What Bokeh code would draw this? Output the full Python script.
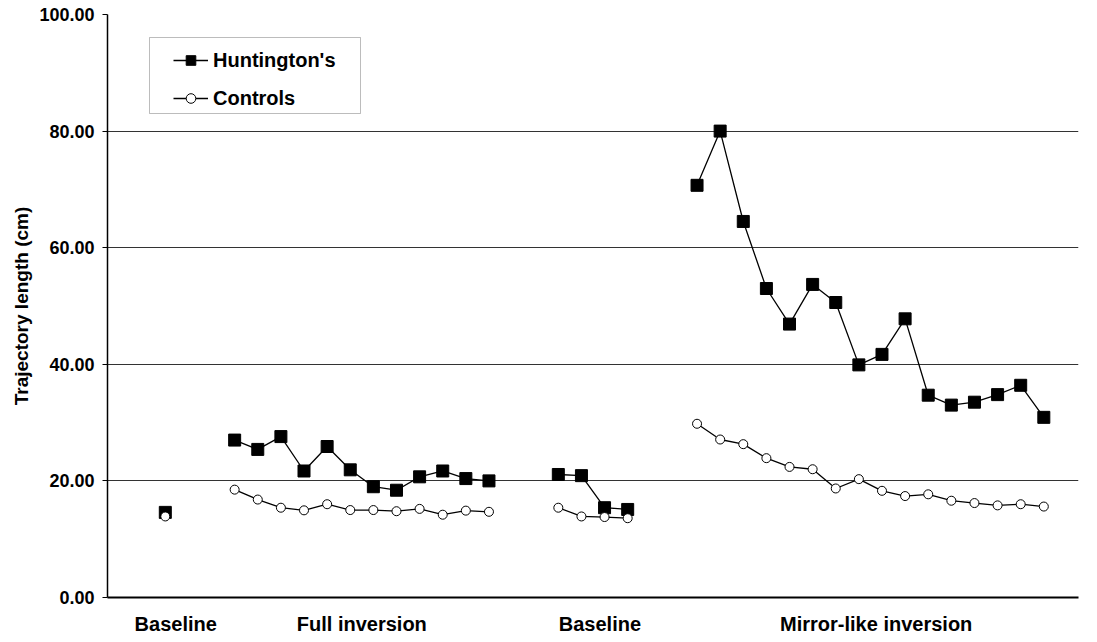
import numpy as np
from bokeh.plotting import figure
from bokeh.models import (FixedTicker, NumeralTickFormatter, Legend, LegendItem,
                          BoxAnnotation, Range1d)
from bokeh.embed import file_html
from bokeh.resources import INLINE

# ---- data -------------------------------------------------------------
phases = ["Baseline", "Full inversion", "Baseline", "Mirror-like inversion"]
phase_start_slot = [2, 5, 19, 25]       # category slot of first trial in each phase
n_slots = 42                            # category slots on the x axis

hd_baseline1 = [14.6]
ctl_baseline1 = [13.9]

hd_full = [27.0, 25.4, 27.6, 21.7, 25.9, 21.9, 19.0, 18.4, 20.7, 21.7, 20.4, 20.0]
ctl_full = [18.5, 16.8, 15.4, 14.95, 16.0, 15.0, 15.0, 14.8, 15.2, 14.2, 14.9, 14.7]

hd_baseline2 = [21.1, 20.9, 15.4, 15.1]
ctl_baseline2 = [15.4, 13.9, 13.8, 13.6]

hd_mirror = [70.7, 80.0, 64.5, 53.0, 46.9, 53.7, 50.6, 39.9, 41.7, 47.8,
             34.7, 33.0, 33.5, 34.8, 36.4, 30.9]
ctl_mirror = [29.8, 27.1, 26.3, 23.9, 22.4, 22.0, 18.7, 20.3, 18.3, 17.4,
              17.7, 16.6, 16.2, 15.8, 16.0, 15.6]

hd_groups = [hd_baseline1, hd_full, hd_baseline2, hd_mirror]
ctl_groups = [ctl_baseline1, ctl_full, ctl_baseline2, ctl_mirror]

y_ticks = [0, 20, 40, 60, 80, 100]


def build(groups):
    xs, ys = [], []
    for start, vals in zip(phase_start_slot, groups):
        xs.extend(start + np.arange(len(vals)))
        ys.extend(vals)
        xs.append(np.nan)
        ys.append(np.nan)
    return np.array(xs[:-1], dtype=float), np.array(ys[:-1], dtype=float)


hx, hy = build(hd_groups)
cx, cy = build(ctl_groups)

# label positions: centre of each phase's block of slots (nudged like the original)
label_pos = [start + (len(v) - 1) / 2 + nudge
             for start, v, nudge in zip(phase_start_slot, hd_groups, [0.45, 0.0, 0.3, 0.25])]

FONT = "Liberation Sans"

p = figure(width=1085, height=638, output_backend="svg", toolbar_location=None,
           x_range=Range1d(-0.5, n_slots - 0.5), y_range=Range1d(0, 100),
           min_border_left=107, min_border_right=7, min_border_top=14,
           min_border_bottom=41)
p.outline_line_color = None
p.background_fill_color = "white"
p.border_fill_color = "white"

# grid
p.xgrid.visible = False
p.ygrid.ticker = FixedTicker(ticks=y_ticks)
p.ygrid.grid_line_color = "#333333"
p.ygrid.grid_line_width = 1

# y axis
p.yaxis.ticker = FixedTicker(ticks=y_ticks)
p.yaxis.formatter = NumeralTickFormatter(format="0.00")
p.yaxis.major_label_text_font = FONT
p.yaxis.major_label_text_font_style = "bold"
p.yaxis.major_label_text_font_size = "18px"
p.yaxis.major_label_text_color = "black"
p.yaxis.major_tick_out = 5
p.yaxis.major_tick_in = 0
p.yaxis.minor_tick_out = 0
p.yaxis.minor_tick_in = 0
p.yaxis.major_label_standoff = 8
p.yaxis.axis_line_color = "black"
p.yaxis.axis_line_width = 1.5
p.yaxis.major_tick_line_color = "black"
p.yaxis.axis_label = "Trajectory length (cm)"
p.yaxis.axis_label_text_font = FONT
p.yaxis.axis_label_text_font_style = "bold"
p.yaxis.axis_label_text_font_size = "19px"
p.yaxis.axis_label_text_color = "black"
p.yaxis.axis_label_standoff = 4

# x axis (phase labels)
p.xaxis.ticker = FixedTicker(ticks=label_pos)
p.xaxis.major_label_overrides = {pos: name for pos, name in zip(label_pos, phases)}
p.xaxis.major_label_text_font = FONT
p.xaxis.major_label_text_font_style = "bold"
p.xaxis.major_label_text_font_size = "20px"
p.xaxis.major_label_text_color = "black"
p.xaxis.major_tick_out = 0
p.xaxis.major_tick_in = 0
p.xaxis.minor_tick_out = 0
p.xaxis.minor_tick_in = 0
p.xaxis.major_label_standoff = 15
p.xaxis.axis_line_color = "black"
p.xaxis.axis_line_width = 2

# series
hl = p.line(hx, hy, line_color="black", line_width=1.3)
hs = p.scatter(hx, hy, marker="square", size=12, fill_color="black", line_color="black")
cl = p.line(cx, cy, line_color="black", line_width=1.3)
cs = p.scatter(cx, cy, marker="circle", size=9, fill_color="white", line_color="black",
               line_width=1)

legend = Legend(items=[LegendItem(label="Huntington's", renderers=[hl, hs]),
                       LegendItem(label="Controls", renderers=[cl, cs])],
                location=(66, 487), padding=0, spacing=14, margin=0,
                glyph_width=35, glyph_height=24, label_height=24,
                label_standoff=5, border_line_color=None,
                background_fill_alpha=0,
                label_text_font=FONT, label_text_font_style="bold",
                label_text_font_size="20px", label_text_color="black")
p.add_layout(legend, "center")

box = BoxAnnotation(left=42, right=253, top=560, bottom=484,
                    left_units="screen", right_units="screen",
                    top_units="screen", bottom_units="screen",
                    fill_alpha=0, line_color="#222222", line_width=1)
p.add_layout(box)

open("out.html", "w").write(file_html(p, INLINE))
